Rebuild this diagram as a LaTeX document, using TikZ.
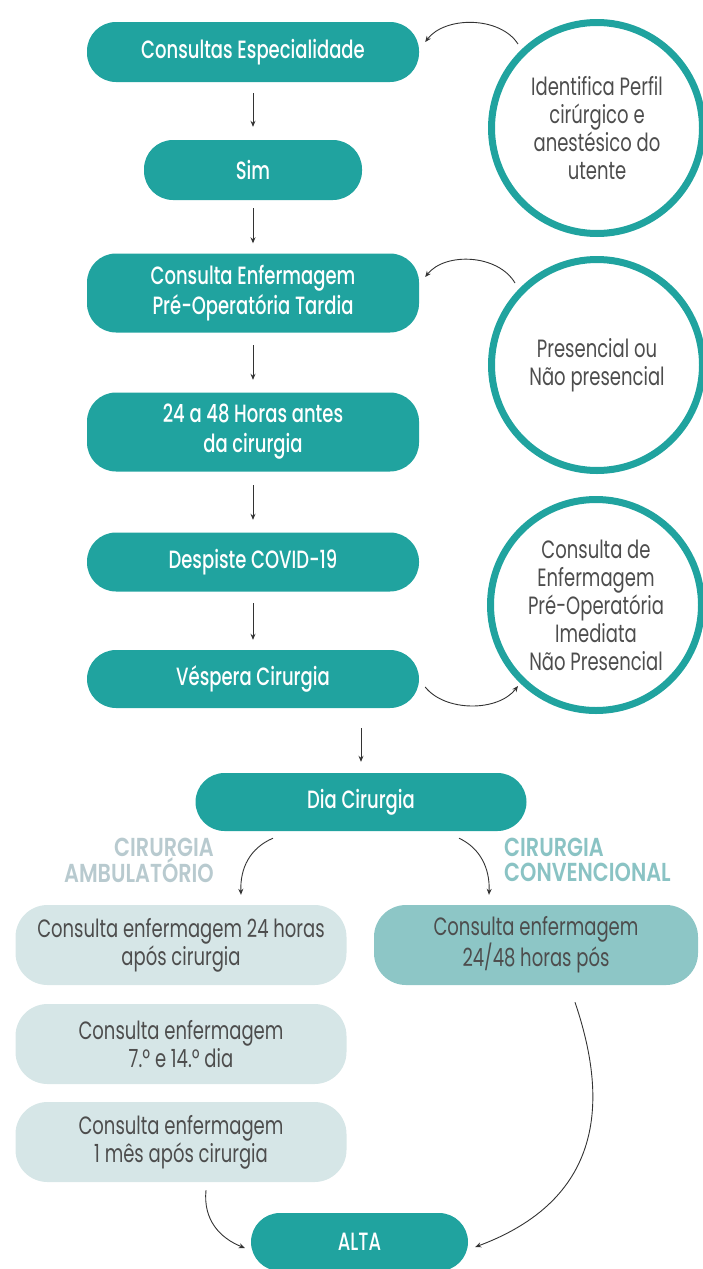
\documentclass[tikz,border=0pt]{standalone}
\usepackage{fontspec}
\setmainfont[FakeStretch=0.72]{Poppins}
\newfontfamily\medfont[FakeStretch=0.72]{Poppins Medium}
\newfontfamily\lblfont[FakeStretch=0.8]{Poppins SemiBold}
\usetikzlibrary{arrows.meta,calc}
\definecolor{tealA}{HTML}{20A39F}
\definecolor{lightbox}{HTML}{D6E6E7}
\definecolor{midbox}{HTML}{8DC6C6}
\definecolor{lblgray}{HTML}{B8CACF}
\definecolor{lblteal}{HTML}{8AC3C4}
\definecolor{txtgray}{HTML}{4D4D4D}
\definecolor{arrgray}{HTML}{333333}
\begin{document}
\begin{tikzpicture}[x=1pt,y=-1pt,
  darkbox/.style={fill=tealA,draw=none,rounded corners=29pt,minimum width=332pt,
    inner sep=0pt,align=center,text=white,font=\medfont\fontsize{25}{30}\selectfont},
  lbox/.style={fill=lightbox,draw=none,rounded corners=32pt,minimum width=331pt,minimum height=80pt,
    inner sep=0pt,align=center,text=txtgray,font=\fontsize{25}{28}\selectfont},
  circ/.style={circle,draw=tealA,line width=7pt,minimum size=211pt,inner sep=0pt,
    align=center,text=txtgray,font=\fontsize{25}{28}\selectfont},
  lbl/.style={font=\lblfont\fontsize{26}{25}\selectfont,inner sep=0pt},
  arr/.style={draw=arrgray,line width=0.9pt,-{Stealth[length=6pt,width=5pt]}},
]
\useasboundingbox (0,0) rectangle (702,1269);
% main column
\node[darkbox,minimum height=60pt] (cons) at (253,52) {Consultas Especialidade};
\node[darkbox,minimum height=60pt,minimum width=218pt] (sim) at (253,170) {Sim};
\node[darkbox,minimum height=79pt] (tard) at (253,293) {Consulta Enfermagem\\Pré-Operatória Tardia};
\node[darkbox,minimum height=79pt] (h2448) at (253,432) {24 a 48 Horas antes\\da cirurgia};
\node[darkbox,minimum height=59pt] (covid) at (253,562) {Despiste COVID-19};
\node[darkbox,minimum height=58pt] (vesp) at (253,679) {Véspera Cirurgia};
\node[darkbox,minimum height=58pt,minimum width=331pt] (dia) at (361,802) {Dia Cirurgia};
% circles
\node[circ] (c1) at (597,128) {Identifica Perfil\\cirúrgico e\\anestésico do\\utente};
\node[circ] (c2) at (597,365) {Presencial ou\\Não presencial};
\node[circ] (c3) at (596,605) {Consulta de\\Enfermagem\\Pré-Operatória\\Imediata\\Não Presencial};
% labels
\node[lbl,text=lblgray,anchor=north east,align=right] (lamb) at (214,838) {CIRURGIA\\AMBULATÓRIO};
\node[lbl,text=lblteal,anchor=north west,align=left] (lconv) at (504,838) {CIRURGIA\\CONVENCIONAL};
% lower boxes
\node[lbox] (a1) at (181,945) {Consulta enfermagem 24 horas\\após cirurgia};
\node[lbox,fill=midbox,minimum width=324pt] (b1) at (536,945) {Consulta enfermagem\\24/48 horas pós};
\node[lbox] (a2) at (181,1044) {Consulta enfermagem\\7.º e 14.º dia};
\node[lbox] (a3) at (181,1142) {Consulta enfermagem\\1 mês após cirurgia};
\node[darkbox,minimum height=58pt,minimum width=217pt] (alta) at (359.5,1242) {ALTA};
% straight arrows
\draw[arr,shorten <=11pt,shorten >=13pt] (cons.south) -- (sim.north);
\draw[arr,shorten <=8pt,shorten >=10pt] (sim.south) -- (tard.north);
\draw[arr,shorten <=12.5pt,shorten >=12.5pt] (tard.south) -- (h2448.north);
\draw[arr,shorten <=13.5pt,shorten >=12.5pt] (h2448.south) -- (covid.north);
\draw[arr,shorten <=11.5pt,shorten >=10pt] (covid.south) -- (vesp.north);
\draw[arr,shorten <=20pt,shorten >=11pt] (vesp.south -| dia.north) -- (dia.north);
% curved arrows
\draw[arr] ([shift={(-79,-84)}]c1.center) .. controls (500,16) and (445,16) .. ([shift={(6,-10)}]cons.east);
\draw[arr] ([shift={(-82,-82)}]c2.center) .. controls (498,254) and (445,252) .. ([shift={(6,-16)}]tard.east);
\draw[arr] ([shift={(6,8)}]vesp.east) .. controls (445,712) and (498,712) .. ([shift={(-78,81)}]c3.center);
\draw[arr] ([shift={(-88,7)}]dia.south) .. controls (250,848) and (240,868) .. ([shift={(60,-10)}]a1.north);
\draw[arr] ([shift={(98,7)}]dia.south) .. controls (480,848) and (490,868) .. ([shift={(-47,-10)}]b1.north);
\draw[arr] ([shift={(39,17)}]b1.south) .. controls (603,1085) and (615,1195) .. ([shift={(7,5)}]alta.east);
\draw[arr] ([shift={(25,8)}]a3.south) .. controls (203,1220) and (220,1238) .. ([shift={(-6,6)}]alta.west);
\end{tikzpicture}
\end{document}
